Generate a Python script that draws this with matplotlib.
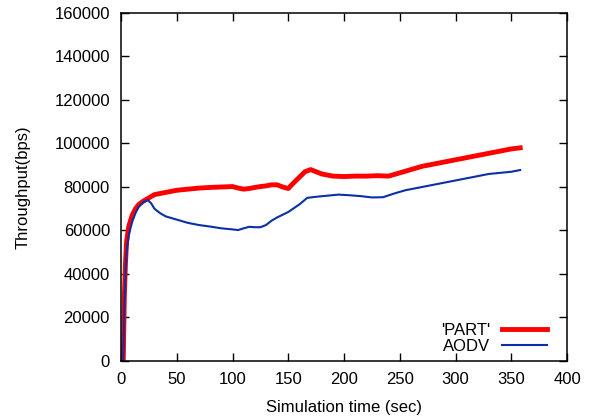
import matplotlib
matplotlib.use("Agg")
import matplotlib.pyplot as plt

plt.rcParams['font.family'] = ['Liberation Sans', 'DejaVu Sans']

# ── Data ────────────────────────────────────────────────────────────────
part_t = [2, 3, 4, 5, 7, 10, 13, 16, 20, 25, 30, 40, 50, 60, 70, 80, 90, 100,
          105, 110, 115, 120, 125, 130, 135, 140, 145, 150, 155, 160, 165, 170,
          175, 180, 190, 200, 210, 220, 230, 240, 250, 260, 270, 280, 290, 300,
          310, 320, 330, 340, 350, 358]
part_v = [0, 30000, 45000, 55000, 62000, 67000, 70000, 72000, 73500, 75000,
          76500, 77500, 78500, 79000, 79500, 79800, 80000, 80200, 79500, 79000,
          79300, 79800, 80200, 80500, 81000, 81000, 80000, 79300, 82000, 84500,
          87000, 88000, 87000, 86000, 85000, 84800, 85000, 85000, 85200, 85000,
          86500, 88000, 89500, 90500, 91500, 92500, 93500, 94500, 95500, 96500,
          97500, 98000]

aodv_t = [2, 3, 4, 5, 7, 10, 13, 16, 20, 24, 27, 30, 35, 40, 50, 60, 70, 80,
          90, 100, 105, 110, 115, 120, 125, 130, 135, 140, 150, 160, 167, 175,
          185, 195, 205, 215, 225, 235, 245, 255, 265, 275, 285, 300, 310, 320,
          330, 340, 350, 358]
aodv_v = [0, 25000, 40000, 50000, 58000, 64000, 68000, 71000, 73000, 74000,
          72500, 70000, 68000, 66500, 65000, 63500, 62500, 61800, 61000, 60500,
          60200, 61000, 61700, 61500, 61500, 62500, 64500, 66000, 68500, 72000,
          75000, 75500, 76000, 76500, 76200, 75800, 75200, 75300, 77000, 78500,
          79500, 80500, 81500, 83000, 84000, 85000, 86000, 86500, 87000, 87800]

x_ticks = [0, 50, 100, 150, 200, 250, 300, 350, 400]
y_ticks = [0, 20000, 40000, 60000, 80000, 100000, 120000, 140000, 160000]

# ── Plot ────────────────────────────────────────────────────────────────
fig = plt.figure(figsize=(6, 4.18), dpi=100)
ax = fig.add_axes([0.2017, 0.1364, 0.7433, 0.8325])

ax.plot(part_t, part_v, color="#ff0000", lw=3.5, label="'PART'")
ax.plot(aodv_t, aodv_v, color="#0a2fa8", lw=1.5, label="AODV")

ax.set_xlim(0, 400)
ax.set_ylim(0, 160000)
ax.set_xticks(x_ticks)
ax.set_yticks(y_ticks)
ax.tick_params(direction="in", length=6, width=1, top=True, right=True,
               labelsize=12, pad=8)
for s in ax.spines.values():
    s.set_linewidth(1.1)

ax.set_xlabel("Simulation time (sec)", fontsize=12, labelpad=9)
ax.set_ylabel("Throughput(bps)", fontsize=12, labelpad=17)

ax.legend(loc="lower right", bbox_to_anchor=(0.955, 0.02), frameon=False,
          markerfirst=False, fontsize=12, handlelength=2.7, handletextpad=0.7,
          borderpad=0, borderaxespad=0, labelspacing=0.05)

fig.savefig("out.png", dpi=100)
